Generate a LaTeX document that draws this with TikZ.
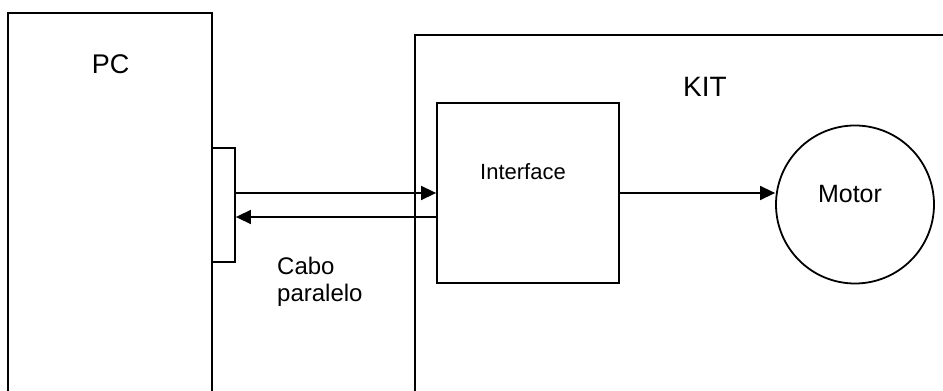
\documentclass[tikz,border=0pt]{standalone}
\usepackage{fontspec}
\setmainfont{Liberation Sans}
\usetikzlibrary{arrows.meta}
\begin{document}
\begin{tikzpicture}[x=1pt,y=1pt,
  box/.style={draw, line width=1.8pt, rectangle, inner sep=0pt},
  conn/.style={line width=1.5pt, -{Triangle[length=15pt,width=14pt]}},
  lbl/.style={inner sep=0pt, anchor=base}]
\useasboundingbox (0,0) rectangle (943,391);
\clip (0,0) rectangle (943,391);
% PC box (open at bottom)
\node[box, minimum width=204pt, minimum height=400pt] (pc) at (110,178) {};
\node[lbl, font=\fontsize{27}{32}\selectfont] (pclabel) at (110.7,317.7) {PC};
% port
\node[box, fill=white, minimum width=23pt, minimum height=114pt] (port) at (223.5,186) {};
% KIT box
\node[box, minimum width=545pt, minimum height=390pt] (kit) at (687.5,161) {};
\node[lbl, font=\fontsize{28}{33}\selectfont] (kitlabel) at (705,294) {KIT};
% Interface
\node[box, minimum width=182pt, minimum height=180pt] (interface) at (528,198) {};
\node[lbl, font=\fontsize{22}{26}\selectfont] (iflabel) at (523,211) {Interface};
% Motor
\node[draw, circle, line width=1.8pt, minimum size=158pt, inner sep=0pt] (motor) at (855,186.5) {};
\node[lbl, font=\fontsize{25}{30}\selectfont] (motorlabel) at (850,188.3) {Motor};
% connectors
\draw[conn] (port.east |- 0,198) coordinate (p1) -- (interface.west |- p1);
\draw[conn] (interface.west |- 0,174) coordinate (p2) -- (port.east |- p2);
\draw[conn] (interface.east) -- (motor.west |- interface.east);
% cable label
\node[inner sep=0pt, anchor=base west, align=left, font=\fontsize{24}{27.7}\selectfont] (cabo) at (277,89) {Cabo\\paralelo};
\end{tikzpicture}
\end{document}
